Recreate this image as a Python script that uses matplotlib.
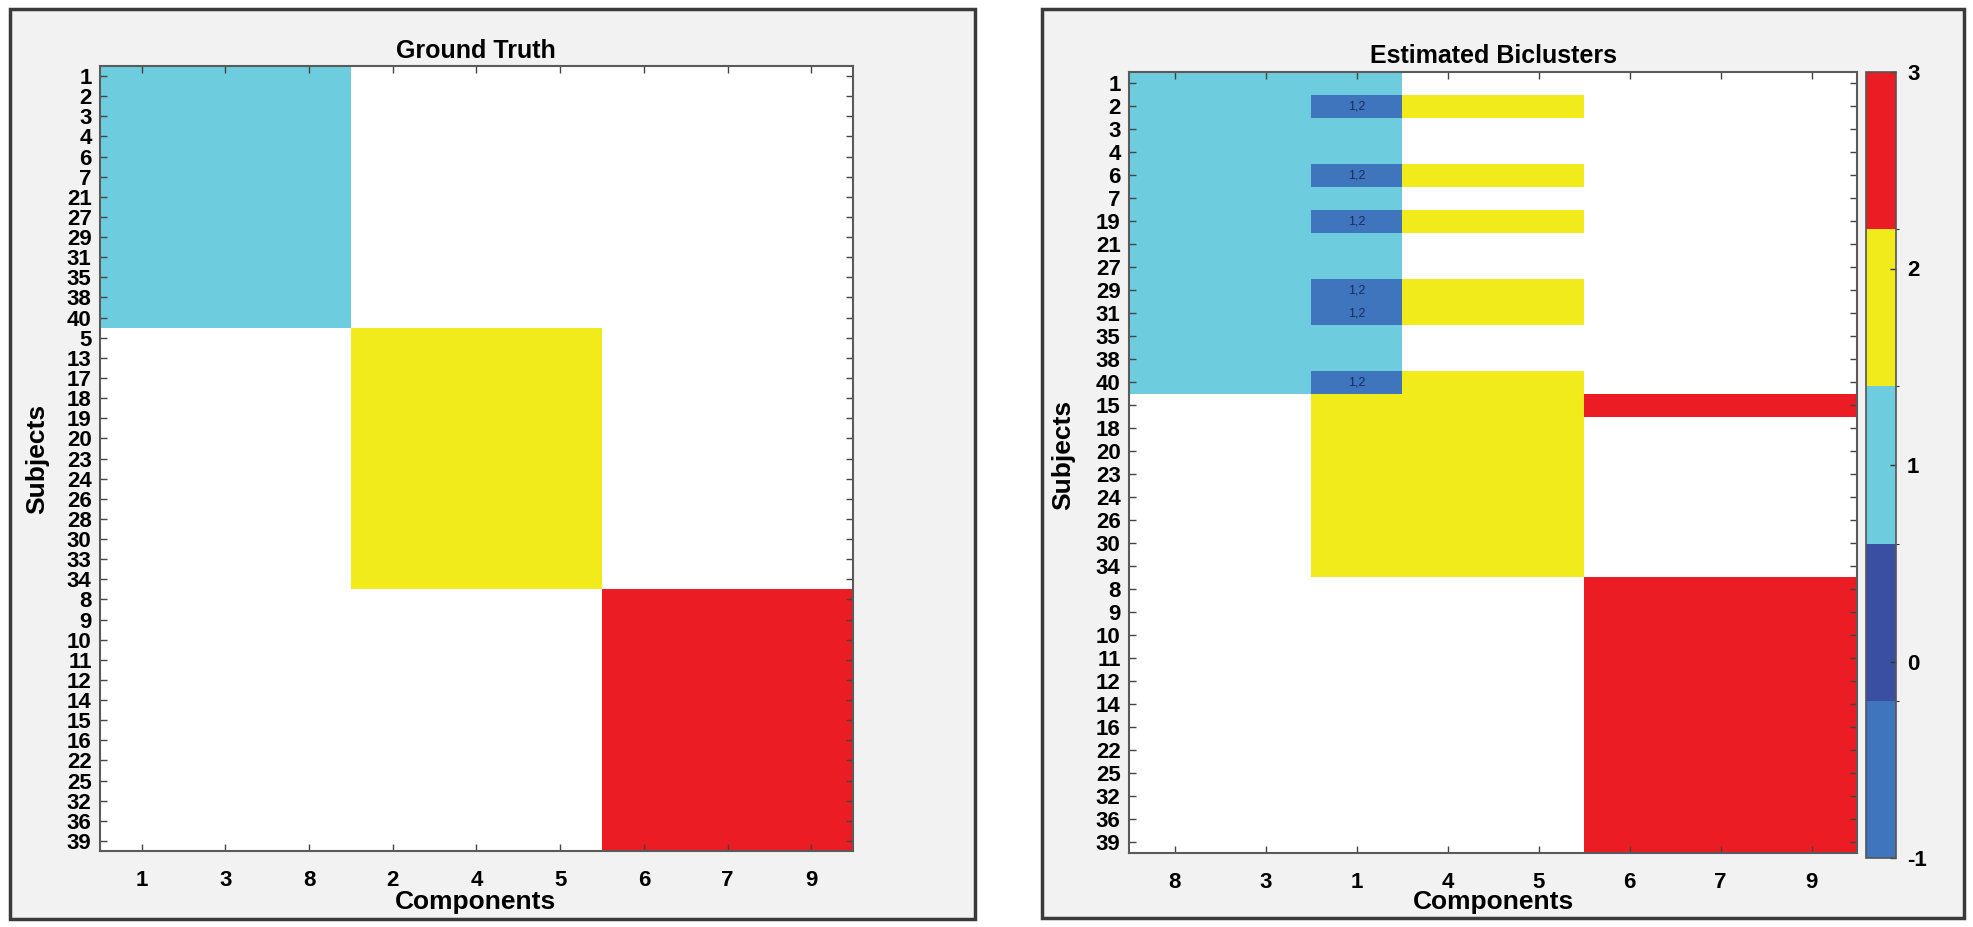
import numpy as np
import matplotlib
matplotlib.use("Agg")
import matplotlib.pyplot as plt
from matplotlib.colors import ListedColormap, BoundaryNorm
from matplotlib.patches import Rectangle

plt.rcParams['font.family'] = ['Liberation Sans', 'DejaVu Sans']
plt.rcParams['axes.unicode_minus'] = False

# ---------------- data ----------------
gt_rows = [1, 2, 3, 4, 6, 7, 21, 27, 29, 31, 35, 38, 40,
           5, 13, 17, 18, 19, 20, 23, 24, 26, 28, 30, 33, 34,
           8, 9, 10, 11, 12, 14, 15, 16, 22, 25, 32, 36, 39]
gt_cols = [1, 3, 8, 2, 4, 5, 6, 7, 9]
gt_c1_rows = [1, 2, 3, 4, 6, 7, 21, 27, 29, 31, 35, 38, 40]
gt_c1_cols = [1, 3, 8]
gt_c2_rows = [5, 13, 17, 18, 19, 20, 23, 24, 26, 28, 30, 33, 34]
gt_c2_cols = [2, 4, 5]
gt_c3_rows = [8, 9, 10, 11, 12, 14, 15, 16, 22, 25, 32, 36, 39]
gt_c3_cols = [6, 7, 9]

est_rows = [1, 2, 3, 4, 6, 7, 19, 21, 27, 29, 31, 35, 38, 40,
            15, 18, 20, 23, 24, 26, 30, 34,
            8, 9, 10, 11, 12, 14, 16, 22, 25, 32, 36, 39]
est_cols = [8, 3, 1, 4, 5, 6, 7, 9]
est_c1_rows = [1, 2, 3, 4, 6, 7, 19, 21, 27, 29, 31, 35, 38, 40]
est_c1_cols = [8, 3, 1]
est_c2_rows = [2, 6, 19, 29, 31, 40, 15, 18, 20, 23, 24, 26, 30, 34]
est_c2_cols = [1, 4, 5]
est_c3_rows = [15, 8, 9, 10, 11, 12, 14, 16, 22, 25, 32, 36, 39]
est_c3_cols = [6, 7, 9]

overlap_value = -1
overlap_label = "1,2"
cbar_ticks = [-1, 0, 1, 2, 3]

# ---------------- build matrices ----------------
def build(rows, cols, clusters):
    M = np.full((len(rows), len(cols)), np.nan)
    owner = [[[] for _ in cols] for _ in rows]
    for k, (cr, cc) in enumerate(clusters, start=1):
        for r in cr:
            for c in cc:
                owner[rows.index(r)][cols.index(c)].append(k)
    for i in range(len(rows)):
        for j in range(len(cols)):
            o = owner[i][j]
            if len(o) == 1:
                M[i, j] = o[0]
            elif len(o) > 1:
                M[i, j] = overlap_value
    return M, owner

gt_M, _ = build(gt_rows, gt_cols, [(gt_c1_rows, gt_c1_cols),
                                    (gt_c2_rows, gt_c2_cols),
                                    (gt_c3_rows, gt_c3_cols)])
est_M, est_owner = build(est_rows, est_cols, [(est_c1_rows, est_c1_cols),
                                              (est_c2_rows, est_c2_cols),
                                              (est_c3_rows, est_c3_cols)])

colors = ['#3e75bd', '#3a4fa2', '#6dcdde', '#f2eb1b', '#ec1c24']
cmap = ListedColormap(colors)
cmap.set_bad('white')
bounds = np.linspace(-1, 3, 6)
norm = BoundaryNorm(bounds, cmap.N)

W, H = 1973, 927
fig = plt.figure(figsize=(W / 100, H / 100), dpi=100)
fig.patch.set_facecolor('white')

def px_rect(x0, y0, x1, y1):
    return [x0 / W, 1 - y1 / H, (x1 - x0) / W, (y1 - y0) / H]

# panel boxes (drawn beneath the axes)
for (x0, y0, x1, y1) in [(10, 9, 975, 919), (1042, 9, 1964, 918)]:
    rect = Rectangle((x0 / W, 1 - y1 / H), (x1 - x0) / W, (y1 - y0) / H,
                     transform=fig.transFigure, facecolor='#f2f2f2',
                     edgecolor='#3a3a3a', linewidth=2.5, zorder=-10)
    fig.add_artist(rect)

TICK_FS = 16
SPINE = '#5a5a5a'

def style_axes(ax, rows, cols):
    ax.set_xticks(range(len(cols)))
    ax.set_xticklabels([str(c) for c in cols], fontsize=TICK_FS, fontweight='bold')
    ax.set_yticks(range(len(rows)))
    ax.set_yticklabels([str(r) for r in rows], fontsize=TICK_FS, fontweight='bold')
    ax.tick_params(axis='both', direction='in', length=5, width=1, color='#444444',
                   top=True, right=True, labeltop=False, labelright=False)
    ax.tick_params(axis='x', pad=14)
    ax.tick_params(axis='y', pad=6)
    for s in ax.spines.values():
        s.set_color(SPINE)
        s.set_linewidth(1.5)

# left panel
ax1 = fig.add_axes(px_rect(100, 66, 853, 851))
ax1.imshow(gt_M, cmap=cmap, norm=norm, aspect='auto', interpolation='nearest')
style_axes(ax1, gt_rows, gt_cols)

# right panel
ax2 = fig.add_axes(px_rect(1129, 72, 1857, 853))
im = ax2.imshow(est_M, cmap=cmap, norm=norm, aspect='auto', interpolation='nearest')
style_axes(ax2, est_rows, est_cols)
for i in range(len(est_rows)):
    for j in range(len(est_cols)):
        if len(est_owner[i][j]) > 1:
            ax2.text(j, i, overlap_label, ha='center', va='center', fontsize=9,
                     color='#1c2b5e')

# colorbar
cax = fig.add_axes(px_rect(1866, 72, 1896, 858))
cb = fig.colorbar(im, cax=cax, ticks=cbar_ticks)
cb.outline.set_edgecolor('#555555')
cb.outline.set_linewidth(1.2)
cax.tick_params(direction='in', length=4, width=1, color='#333333', pad=8)
for lab in cax.get_yticklabels():
    lab.set_fontsize(TICK_FS)
    lab.set_fontweight('bold')

# titles and labels
def ftext(x, y, s, **kw):
    fig.text(x / W, 1 - y / H, s, **kw)

ftext(476, 58, "Ground Truth", ha='center', va='baseline', fontsize=18, fontweight='bold')
ftext(1493, 63, "Estimated Biclusters", ha='center', va='baseline', fontsize=18, fontweight='bold')
ftext(476, 909, "Components", ha='center', va='baseline', fontsize=19, fontweight='bold')
ftext(1493, 909, "Components", ha='center', va='baseline', fontsize=19, fontweight='bold')
ftext(37, 459, "Subjects", ha='center', va='center', rotation=90, fontsize=19, fontweight='bold')
ftext(1063, 455, "Subjects", ha='center', va='center', rotation=90, fontsize=19, fontweight='bold')

fig.savefig('out.png', dpi=100, facecolor='white')
